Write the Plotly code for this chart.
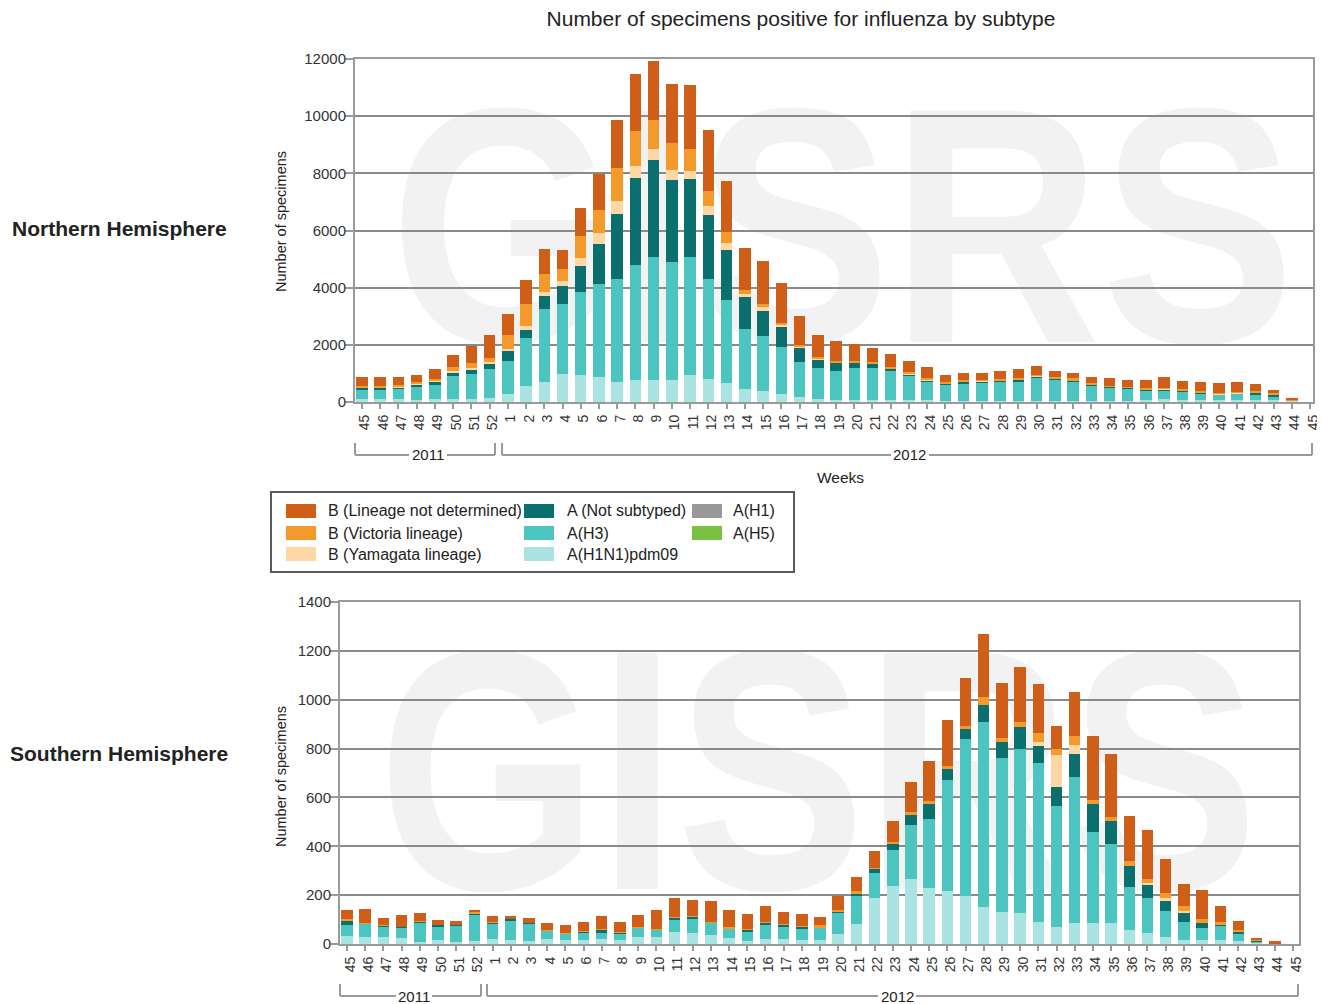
import base64
import plotly.graph_objects as go

# page is offset by the 8px body margin; map page pixels to figure paper coords
OFF = 8
W, H = 1317, 996


def px(x):
    return (x - OFF) / W


def py(y):
    return 1 - (y - OFF) / H


# ---------------- data ----------------
weeks = ["45", "46", "47", "48", "49", "50", "51", "52",
         "1", "2", "3", "4", "5", "6", "7", "8", "9", "10",
         "11", "12", "13", "14", "15", "16", "17", "18", "19", "20",
         "21", "22", "23", "24", "25", "26", "27", "28", "29", "30",
         "31", "32", "33", "34", "35", "36", "37", "38", "39", "40",
         "41", "42", "43", "44", "45"]
years = ["2011", "2012"]

series_names = ["A(H1N1)pdm09", "A(H3)", "A (Not subtyped)",
                "B (Yamagata lineage)", "B (Victoria lineage)",
                "B (Lineage not determined)"]
series_colors = ["#a9e3e2", "#4cc4bf", "#0b706d", "#fdd8a4", "#f49a2c", "#cf5f18"]

# Northern Hemisphere
nh_pdm09 = [120, 120, 110, 60, 90, 90, 120, 140,
            270, 565, 700, 990, 930, 870, 700, 760, 760, 760,
            930, 810, 660, 465, 370, 270, 175, 115, 80, 60,
            60, 60, 60, 60, 35, 35, 35, 35, 35, 35,
            35, 35, 35, 35, 35, 60, 120, 80, 60, 60,
            80, 80, 60, 35, 0]
nh_h3 = [300, 300, 330, 470, 490, 810, 850, 1010,
         1180, 1660, 2560, 2440, 2930, 3250, 3600, 4030, 4310, 4150,
         4130, 3490, 2910, 2090, 1950, 1650, 1220, 1080, 1020, 1140,
         1140, 1020, 850, 640, 580, 605, 640, 670, 695, 790,
         750, 670, 550, 470, 435, 355, 295, 270, 235, 190,
         200, 175, 120, 0, 0]
nh_notsub = [80, 80, 80, 80, 150, 120, 175, 200,
             340, 310, 465, 640, 905, 1420, 2270, 3050, 3400, 2870,
             2730, 2230, 1760, 1105, 850, 720, 500, 290, 265, 175,
             140, 80, 50, 60, 35, 60, 50, 35, 60, 80,
             25, 35, 25, 25, 25, 25, 35, 35, 25, 25,
             25, 70, 80, 25, 0]
nh_yam = [20, 20, 20, 20, 30, 60, 60, 60,
          70, 118, 140, 175, 290, 385, 465, 405, 385, 350,
          290, 325, 220, 130, 140, 40, 45, 25, 20, 15,
          15, 15, 15, 15, 10, 10, 10, 10, 10, 10,
          10, 10, 10, 10, 10, 10, 10, 10, 10, 10,
          10, 10, 10, 5, 0]
nh_vic = [50, 50, 50, 55, 60, 150, 175, 120,
          470, 790, 615, 405, 755, 780, 1160, 1220, 1010, 930,
          770, 520, 385, 120, 115, 80, 55, 80, 55, 45,
          55, 55, 90, 55, 45, 55, 35, 45, 35, 35,
          45, 80, 35, 35, 35, 55, 45, 55, 55, 45,
          45, 45, 35, 20, 0]
nh_bnd = [290, 290, 300, 260, 320, 410, 590, 820,
          750, 835, 870, 660, 990, 1280, 1660, 2010, 2060, 2070,
          2230, 2130, 1800, 1480, 1510, 1400, 1020, 770, 700, 580,
          490, 465, 370, 405, 255, 265, 235, 305, 320, 295,
          235, 200, 210, 260, 235, 270, 365, 280, 330, 330,
          350, 245, 120, 70, 0]

# Southern Hemisphere
sh_pdm09 = [34, 30, 30, 23, 10, 16, 10, 14,
            19, 16, 14, 20, 16, 16, 20, 16, 30, 30,
            48, 46, 35, 23, 14, 21, 21, 18, 18, 41,
            82, 187, 239, 267, 228, 215, 198, 150, 133, 127,
            92, 70, 84, 84, 84, 57, 44, 30, 16, 16,
            16, 14, 5, 2, 0]
sh_h3 = [44, 54, 41, 44, 79, 57, 64, 105,
         65, 79, 68, 37, 29, 31, 27, 29, 38, 31,
         50, 55, 52, 39, 39, 58, 52, 47, 48, 86,
         116, 104, 144, 219, 285, 458, 640, 759, 627, 673,
         647, 495, 598, 374, 326, 177, 143, 105, 75, 48,
         58, 27, 5, 2, 0]
sh_notsub = [20, 0, 4, 4, 3, 4, 4, 7,
             4, 7, 4, 0, 0, 4, 11, 3, 0, 0,
             10, 10, 0, 0, 7, 8, 7, 8, 0, 4,
             10, 16, 27, 44, 62, 45, 44, 71, 66, 89,
             73, 78, 95, 116, 92, 86, 54, 45, 37, 24,
             3, 7, 4, 0, 0]
sh_yam = [0, 0, 0, 0, 0, 0, 0, 0,
          0, 0, 0, 0, 0, 0, 0, 0, 0, 0,
          0, 0, 0, 0, 0, 0, 0, 0, 0, 0,
          0, 0, 0, 0, 0, 0, 0, 0, 0, 0,
          16, 130, 37, 0, 0, 0, 10, 8, 6, 0,
          0, 0, 0, 0, 0]
sh_vic = [3, 3, 2, 0, 2, 0, 0, 4,
          2, 0, 2, 2, 2, 2, 2, 2, 2, 2,
          2, 2, 2, 7, 2, 2, 2, 2, 10, 7,
          7, 4, 7, 11, 10, 11, 11, 31, 16, 18,
          34, 25, 38, 14, 16, 19, 14, 19, 21, 16,
          14, 10, 3, 0, 0]
sh_bnd = [38, 58, 31, 48, 34, 23, 16, 10,
          23, 12, 20, 27, 30, 37, 53, 41, 48, 75,
          77, 66, 86, 69, 59, 65, 48, 48, 35, 58,
          59, 71, 85, 123, 166, 187, 194, 256, 228, 228,
          201, 93, 180, 262, 261, 184, 203, 143, 90, 116,
          64, 37, 5, 8, 0]

nh_yticks = [0, 2000, 4000, 6000, 8000, 10000, 12000]
sh_yticks = [0, 200, 400, 600, 800, 1000, 1200, 1400]

legend_items = [
    ("B (Lineage not determined)", "#cf5f18", 286, 326, 511),
    ("B (Victoria lineage)", "#f49a2c", 286, 326, 533),
    ("B (Yamagata lineage)", "#fdd8a4", 286, 326, 554),
    ("A (Not subtyped)", "#0b706d", 524, 565, 511),
    ("A(H3)", "#4cc4bf", 524, 565, 533),
    ("A(H1N1)pdm09", "#a9e3e2", 524, 565, 554),
    ("A(H1)", "#999999", 692, 731, 511),
    ("A(H5)", "#79c143", 692, 731, 533),
]

# ---------------- figure ----------------
xpos = list(range(len(weeks)))
fig = go.Figure()

nh_series = [nh_pdm09, nh_h3, nh_notsub, nh_yam, nh_vic, nh_bnd]
sh_series = [sh_pdm09, sh_h3, sh_notsub, sh_yam, sh_vic, sh_bnd]

for name, col, vals in zip(series_names, series_colors, nh_series):
    fig.add_trace(go.Bar(x=xpos, y=vals, name=name, marker_color=col,
                         marker_line_width=0, width=0.63,
                         xaxis="x", yaxis="y", showlegend=False))
for name, col, vals in zip(series_names, series_colors, sh_series):
    fig.add_trace(go.Bar(x=xpos, y=vals, name=name, marker_color=col,
                         marker_line_width=0, width=0.63,
                         xaxis="x2", yaxis="y2", showlegend=False))

FONT = "Liberation Sans, Arial, Helvetica, sans-serif"
GRID = "#8a8a8a"
LINE = "#9a9a9a"

common_x = dict(tickmode="array", tickvals=xpos, ticktext=weeks, tickangle=-90,
                tickfont=dict(size=14, color="#333"), ticks="outside", ticklen=5,
                tickcolor=LINE, tickwidth=1.5, showline=True, linecolor=LINE,
                linewidth=2, mirror=True, showgrid=False, zeroline=False,
                fixedrange=True, automargin=False, ticklabelshift=3,
                ticklabeloverflow="allow")
common_y = dict(tickmode="array", tickformat="d", tickfont=dict(size=15, color="#333"),
                ticks="outside", ticklen=8, tickcolor=LINE, tickwidth=1.5,
                showline=True, linecolor=LINE, linewidth=2, mirror=True,
                showgrid=True, gridcolor=GRID, gridwidth=2, zeroline=False,
                fixedrange=True, automargin=False, ticklabelstandoff=-4)


def watermark_uri():
    svg = ('<svg xmlns="http://www.w3.org/2000/svg" width="910" height="245" '
           'viewBox="0 0 910 245"><text x="0" y="242" '
           'font-family="Liberation Sans, Arial, sans-serif" font-weight="bold" '
           'font-size="336" fill="#f2f2f2" textLength="905" '
           'lengthAdjust="spacingAndGlyphs">GISRS</text></svg>')
    return "data:image/svg+xml;base64," + base64.b64encode(svg.encode()).decode()


wm = watermark_uri()
images = [
    dict(source=wm, xref="paper", yref="paper", x=px(390), y=py(100),
         sizex=910 / W, sizey=245 / H, xanchor="left", yanchor="top",
         sizing="stretch", layer="below"),
    dict(source=wm, xref="paper", yref="paper", x=px(378), y=py(642),
         sizex=885 / W, sizey=250 / H, xanchor="left", yanchor="top",
         sizing="stretch", layer="below"),
]

shapes = []
annotations = []


def hline(x0, x1, y, color=LINE, w=2):
    shapes.append(dict(type="line", xref="paper", yref="paper",
                       x0=px(x0), x1=px(x1), y0=py(y), y1=py(y),
                       line=dict(color=color, width=w)))


def vline(x, y0, y1, color=LINE, w=2):
    shapes.append(dict(type="line", xref="paper", yref="paper",
                       x0=px(x), x1=px(x), y0=py(y0), y1=py(y1),
                       line=dict(color=color, width=w)))


def text(t, x, y, size=14, xanchor="center", angle=0, bold=False, color="#222"):
    annotations.append(dict(text=("<b>%s</b>" % t) if bold else t,
                            xref="paper", yref="paper", x=px(x), y=py(y),
                            xanchor=xanchor, yanchor="middle", showarrow=False,
                            textangle=angle,
                            font=dict(size=size, color=color, family=FONT)))


# year brackets, top chart
vline(355, 443, 455); hline(355, 409, 455); text(years[0], 428, 454, 15); hline(447, 495, 455); vline(495, 443, 455)
vline(502, 443, 455); hline(502, 891, 455); text(years[1], 910, 454, 15); hline(929, 1312, 455); vline(1312, 443, 455)
text("Weeks", 840, 477, 15.5)

# year brackets, bottom chart
vline(340, 984, 996); hline(340, 396, 996); text(years[0], 414, 996, 15); hline(432, 481, 996); vline(481, 984, 996)
vline(487, 984, 996); hline(487, 878, 996); text(years[1], 897, 996, 15); hline(916, 1298, 996); vline(1298, 984, 996)

# axis titles and row labels
text("Number of specimens", 281, 222, 14.5, angle=-90)
text("Number of specimens", 281, 777, 14.5, angle=-90)
text("Northern Hemisphere", 10, 229, 21, xanchor="left", bold=True)
text("Southern Hemisphere", 8, 753, 21, xanchor="left", bold=True)

# legend box
shapes.append(dict(type="rect", xref="paper", yref="paper",
                   x0=px(271), x1=px(794), y0=py(572), y1=py(492),
                   line=dict(color="#5a5a5a", width=2), fillcolor="white"))
for label, col, sx, tx, ry in legend_items:
    shapes.append(dict(type="rect", xref="paper", yref="paper",
                       x0=px(sx), x1=px(sx + 30), y0=py(ry + 7), y1=py(ry - 7),
                       line=dict(width=0), fillcolor=col))
    text(label, tx, ry, 16, xanchor="left")

fig.update_layout(
    width=W, height=H, margin=dict(l=0, r=0, t=0, b=0),
    paper_bgcolor="white", plot_bgcolor="rgba(0,0,0,0)",
    barmode="stack", showlegend=False,
    font=dict(family=FONT, color="#222"),
    title=dict(text="Number of specimens positive for influenza by subtype",
               x=px(801), y=py(19), xanchor="center", yanchor="middle",
               font=dict(size=21, color="#222", family=FONT)),
    xaxis=dict(common_x, domain=[px(355), px(1313)], range=[-0.38, 52.16], anchor="y"),
    yaxis=dict(common_y, domain=[py(402), py(59)], range=[0, 12000],
               tickvals=nh_yticks, anchor="x"),
    xaxis2=dict(common_x, domain=[px(340), px(1299)], range=[-0.385, 52.33], anchor="y2"),
    yaxis2=dict(common_y, domain=[py(944), py(602)], range=[0, 1400],
                tickvals=sh_yticks, anchor="x2"),
    images=images, shapes=shapes, annotations=annotations,
)

fig.write_html("out.html")
